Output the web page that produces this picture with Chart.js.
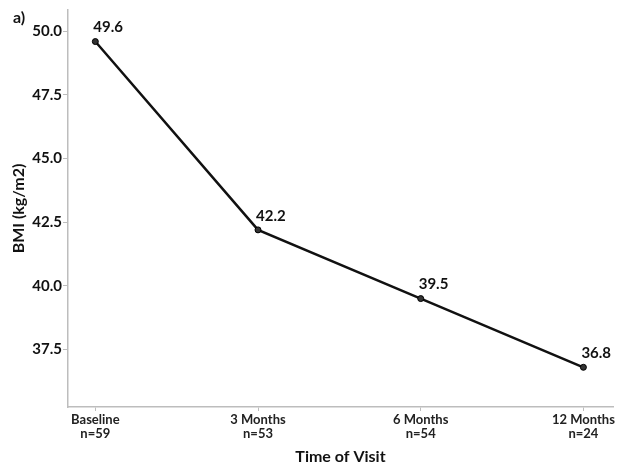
<!DOCTYPE html>
<html>
<head>
<meta charset="utf-8">
<script src="https://cdn.jsdelivr.net/npm/chart.js@4/dist/chart.umd.min.js"></script>
<style>
  html, body { margin: 0; padding: 0; background: #fff; }
  #wrap { width: 618px; height: 469px; }
</style>
</head>
<body>
<div id="wrap"><canvas id="c" width="618" height="469"></canvas></div>
<script>
// Mean BMI at each visit
const visits = ['Baseline', '3 Months', '6 Months', '12 Months'];
const sampleSizes = ['n=59', 'n=53', 'n=54', 'n=24'];
const bmiValues = [49.6, 42.2, 39.5, 36.8];
const yTickValues = [37.5, 40.0, 42.5, 45.0, 47.5, 50.0];

const FONT = 'Lato, "Open Sans", sans-serif';
const AXIS_GREY = '#bdbdbd';

const points = bmiValues.map((v, i) => ({ x: i, y: v }));

// Value labels above each point
const valueLabels = {
  id: 'valueLabels',
  afterDatasetsDraw(chart) {
    const ctx = chart.ctx;
    const meta = chart.getDatasetMeta(0);
    ctx.save();
    ctx.font = 'bold 15px ' + FONT;
    ctx.fillStyle = '#111';
    ctx.textAlign = 'left';
    ctx.textBaseline = 'middle';
    meta.data.forEach((pt, i) => {
      ctx.fillText(bmiValues[i].toFixed(1), pt.x - 2, pt.y - 14);
    });
    ctx.restore();
  }
};

// Panel tag in the corner
const panelTag = {
  id: 'panelTag',
  afterDraw(chart) {
    const ctx = chart.ctx;
    ctx.save();
    ctx.font = 'bold 16px ' + FONT;
    ctx.fillStyle = '#111';
    ctx.textAlign = 'left';
    ctx.textBaseline = 'middle';
    ctx.fillText('a)', 13, 18);
    ctx.restore();
  }
};

new Chart(document.getElementById('c'), {
  type: 'line',
  data: {
    datasets: [{
      data: points,
      borderColor: '#111',
      borderWidth: 2.5,
      backgroundColor: '#111',
      pointRadius: 3,
      pointBorderWidth: 1,
      pointBackgroundColor: '#333',
      pointBorderColor: '#000',
      tension: 0
    }]
  },
  options: {
    responsive: false,
    animation: false,
    devicePixelRatio: 1,
    layout: { padding: { top: 7, right: 4, left: 0, bottom: 0 } },
    plugins: { legend: { display: false }, tooltip: { enabled: false } },
    scales: {
      x: {
        type: 'linear',
        min: -0.168,
        max: 3.182,
        afterBuildTicks(scale) { scale.ticks = visits.map((_, i) => ({ value: i })); },
        afterFit(scale) { scale.height = 62; },
        ticks: {
          autoSkip: false,
          maxRotation: 0,
          padding: 2,
          color: '#222',
          font: { family: FONT, size: 13, weight: 'bold', lineHeight: 1.05 },
          callback(value) { return [visits[value], sampleSizes[value]]; }
        },
        grid: { drawOnChartArea: false, drawTicks: true, tickLength: 4, color: AXIS_GREY, lineWidth: 1 },
        border: { display: true, color: AXIS_GREY, width: 1.5 },
        title: {
          display: true,
          text: 'Time of Visit',
          color: '#111',
          font: { family: FONT, size: 16, weight: 'bold', lineHeight: 1.2 },
          padding: { top: 3, bottom: 3 }
        }
      },
      y: {
        type: 'linear',
        min: 35.24,
        max: 50.84,
        afterBuildTicks(scale) { scale.ticks = yTickValues.map(v => ({ value: v })); },
        afterFit(scale) { scale.width = 68; },
        ticks: {
          padding: 1,
          color: '#111',
          font: { family: FONT, size: 15, weight: 'bold' },
          callback(value) { return Number(value).toFixed(1); }
        },
        grid: { drawOnChartArea: false, drawTicks: true, tickLength: 5, color: AXIS_GREY, lineWidth: 1 },
        border: { display: true, color: AXIS_GREY, width: 1.5 },
        title: {
          display: true,
          text: 'BMI (kg/m2)',
          color: '#111',
          font: { family: FONT, size: 16, weight: 'bold', lineHeight: 1.2 },
          padding: { top: 9, bottom: 9 }
        }
      }
    }
  },
  plugins: [valueLabels, panelTag]
});
</script>
</body>
</html>
